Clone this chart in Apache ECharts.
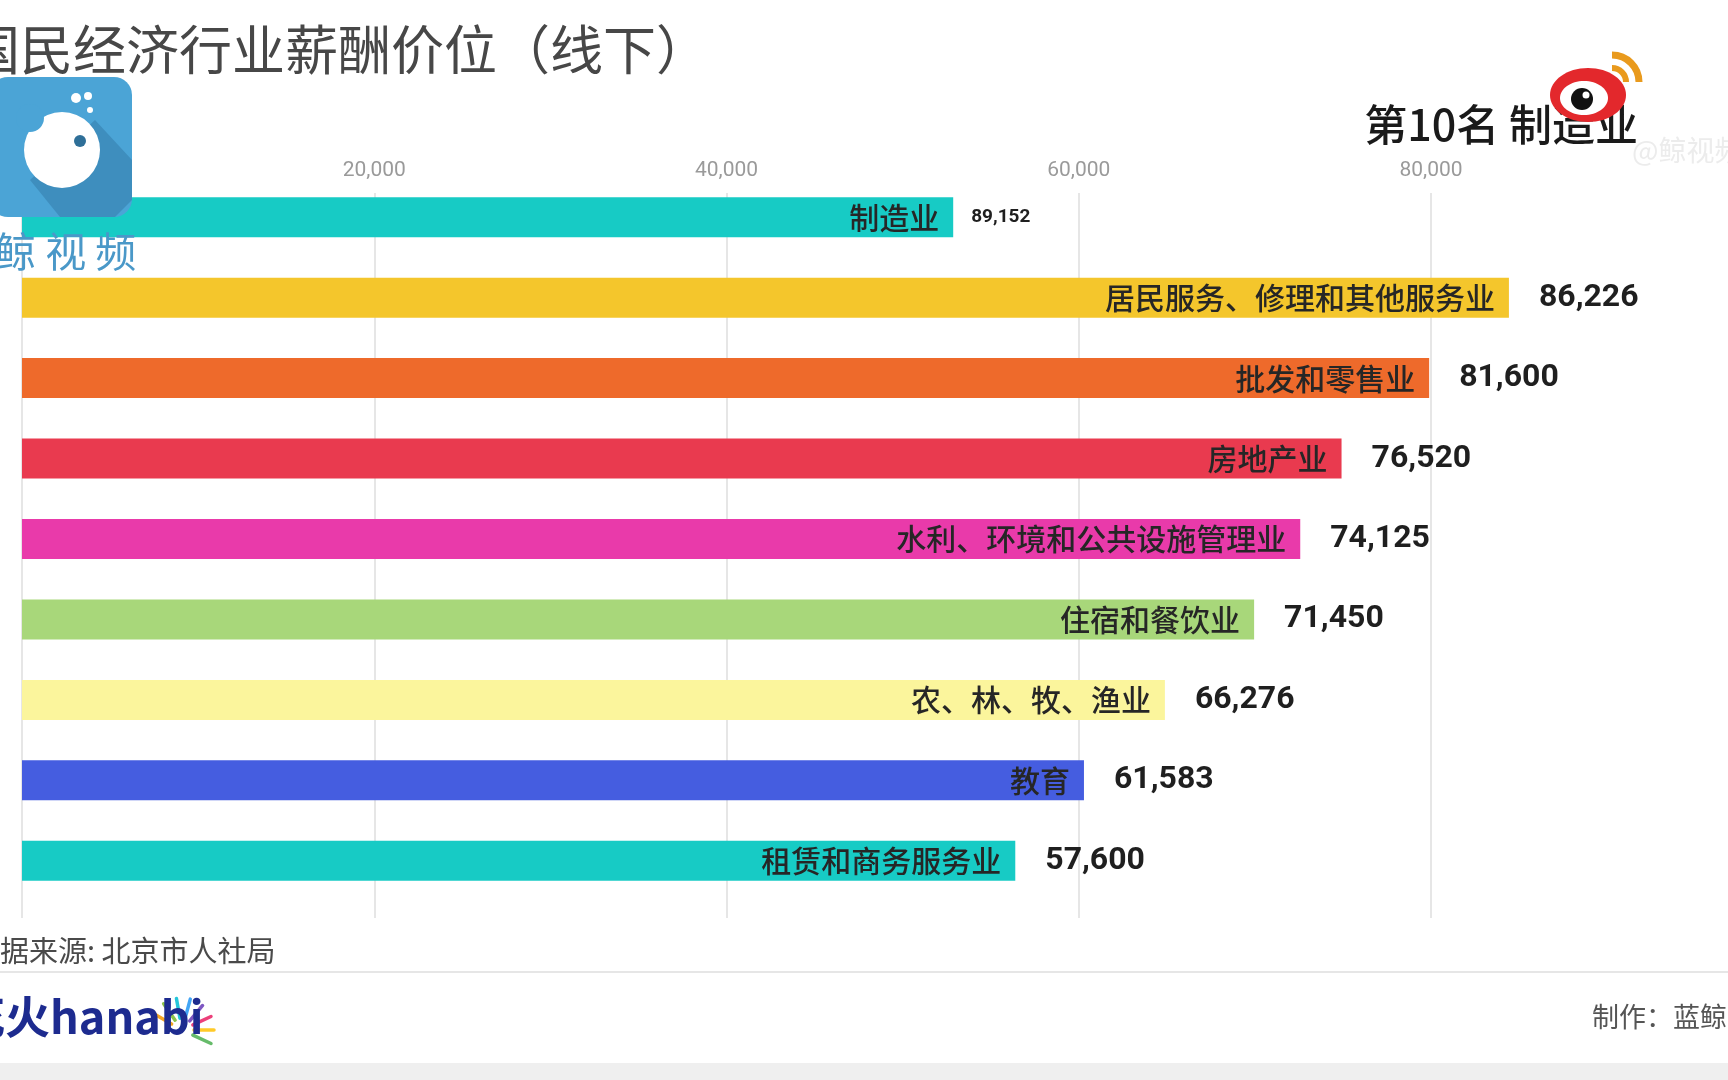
<!DOCTYPE html>
<html>
<head>
<meta charset="utf-8">
<script src="https://cdn.jsdelivr.net/npm/echarts@6/dist/echarts.min.js"></script>
<style>
html,body{margin:0;padding:0;background:#ffffff;}
#chart{width:1728px;height:1080px;}
</style>
</head>
<body>
<div id="chart"></div>
<script>
// ---- data read from the frame ----
const categories = ['制造业', '居民服务、修理和其他服务业', '批发和零售业', '房地产业', '水利、环境和公共设施管理业', '住宿和餐饮业', '农、林、牧、渔业', '教育', '租赁和商务服务业'];
const labelValues = [89152, 86226, 81600, 76520, 74125, 71450, 66276, 61583, 57600];
// bar lengths as drawn in this frame (the 制造业 bar is still growing in the race animation)
const barValues = [54000, 86226, 81600, 76520, 74125, 71450, 66276, 61583, 57600];
const barColors = ['#17CBC5', '#F4C62C', '#EE6A2B', '#E93A4F', '#E93AAA', '#A8D77A', '#FBF59C', '#455DE0', '#17CBC5'];
const tickMin = 0, tickMax = 80000, tickStep = 20000;
const titleText = '国民经济行业薪酬价位（线下）';
const rankText = '第10名 制造业';
const sourceText = '数据来源: 北京市人社局';
const makerText = '制作：蓝鲸视频';

const fmt = v => v.toLocaleString('en-US');
const CJK = '"Noto Sans CJK SC", "Noto Sans", sans-serif';

const chart = echarts.init(document.getElementById('chart'));

const nameData = barValues.map((v, i) => ({
  value: v,
  itemStyle: { color: barColors[i] }
}));
const valueData = barValues.map((v, i) => ({
  value: v,
  label: i === 0 ? { fontSize: 19, distance: 18 } : { fontSize: 32, distance: 30 }
}));

const fireColors = ['#f5a623', '#8bc34a', '#26c6da', '#42a5f5', '#7e57c2', '#ec407a', '#ffca28', '#66bb6a'];
const fireLines = fireColors.map((c, i) => {
  const a = (-150 + i * 25) * Math.PI / 180;
  const cx = 182, cy = 1030;
  return {
    type: 'line',
    shape: { x1: cx + Math.cos(a) * 12, y1: cy + Math.sin(a) * 12, x2: cx + Math.cos(a) * 32, y2: cy + Math.sin(a) * 32 },
    style: { stroke: c, lineWidth: 3.5, lineCap: 'round' },
    z: 10
  };
});

const option = {
  backgroundColor: '#ffffff',
  animation: false,
  grid: [
    { left: 22, top: 193, width: 1409, height: 725 },
    { left: 22, top: 177, width: 1552, height: 724 }
  ],
  xAxis: [
    {
      gridIndex: 0, type: 'value', position: 'top',
      min: tickMin, max: tickMax, interval: tickStep,
      axisLine: { show: false }, axisTick: { show: false },
      axisLabel: { showMinLabel: false, margin: 12, color: '#9a9a9a', fontSize: 21, fontFamily: 'Roboto, "Liberation Sans", sans-serif', formatter: v => fmt(v) },
      splitLine: { show: true, lineStyle: { color: '#dedede', width: 1.5 } }
    },
    {
      gridIndex: 1, type: 'value', min: 0, max: 90000, show: false,
      splitLine: { show: false }
    }
  ],
  yAxis: [
    { gridIndex: 0, type: 'value', show: false, splitLine: { show: false } },
    { gridIndex: 1, type: 'category', inverse: true, data: categories, show: false }
  ],
  series: [
    {
      type: 'bar', xAxisIndex: 1, yAxisIndex: 1, barWidth: 40,
      data: nameData,
      label: {
        show: true, position: 'insideRight', distance: 14,
        formatter: p => categories[p.dataIndex],
        color: '#262626', fontSize: 30, fontWeight: 500, fontFamily: CJK
      },
      z: 3
    },
    {
      type: 'bar', xAxisIndex: 1, yAxisIndex: 1, barWidth: 40, barGap: '-100%',
      data: valueData,
      itemStyle: { color: 'rgba(0,0,0,0)' },
      label: {
        show: true, position: 'right',
        formatter: p => fmt(labelValues[p.dataIndex]),
        color: '#1f1f1f', fontWeight: 'bold', fontFamily: 'Roboto, "DejaVu Sans", sans-serif'
      },
      z: 2
    }
  ],
  graphic: [
    // title (left part runs off the frame)
    { type: 'text', left: -33, top: 23, style: { text: titleText, font: '53px ' + CJK, fill: '#474747' }, z: 20 },
    // current rank caption
    { type: 'text', right: 90, top: 103, style: { text: rankText, font: '500 43px ' + CJK, fill: '#1a1a1a' }, z: 20 },
    { type: 'text', left: 1632, top: 136, style: { text: '@鲸视频', font: '28px ' + CJK, fill: '#ececec' }, z: 1 },
    // weibo logo (approximation)
    { type: 'ellipse', shape: { cx: 1588, cy: 95, rx: 38, ry: 27 }, style: { fill: '#E3282C' }, z: 21 },
    { type: 'ellipse', shape: { cx: 1584, cy: 98, rx: 24, ry: 17 }, style: { fill: '#ffffff' }, z: 22 },
    { type: 'circle', shape: { cx: 1582, cy: 99, r: 11 }, style: { fill: '#111111' }, z: 23 },
    { type: 'circle', shape: { cx: 1586, cy: 95, r: 3.5 }, style: { fill: '#ffffff' }, z: 24 },
    { type: 'arc', shape: { cx: 1612, cy: 82, r: 14, startAngle: -Math.PI / 2, endAngle: 0 }, style: { stroke: '#E99A1D', lineWidth: 6, fill: 'none' }, z: 21 },
    { type: 'arc', shape: { cx: 1612, cy: 82, r: 27, startAngle: -Math.PI / 2, endAngle: 0 }, style: { stroke: '#E99A1D', lineWidth: 7, fill: 'none' }, z: 21 },
    // whale video logo (approximation)
    { type: 'rect', shape: { x: -10, y: 77, width: 142, height: 140, r: 18 }, style: { fill: '#4BA4D6' }, z: 20 },
    { type: 'polygon', shape: { points: [[30, 180], [95, 120], [132, 160], [132, 200], [115, 217], [60, 217]] }, style: { fill: '#3E8EBE' }, z: 21 },
    { type: 'circle', shape: { cx: 62, cy: 150, r: 38 }, style: { fill: '#ffffff' }, z: 22 },
    { type: 'circle', shape: { cx: 30, cy: 118, r: 14 }, style: { fill: '#4BA4D6' }, z: 23 },
    { type: 'circle', shape: { cx: 80, cy: 141, r: 6 }, style: { fill: '#2E6F98' }, z: 23 },
    { type: 'circle', shape: { cx: 76, cy: 98, r: 5 }, style: { fill: '#ffffff' }, z: 23 },
    { type: 'circle', shape: { cx: 88, cy: 96, r: 4 }, style: { fill: '#ffffff' }, z: 23 },
    { type: 'circle', shape: { cx: 90, cy: 110, r: 3 }, style: { fill: '#ffffff' }, z: 23 },
    { type: 'text', left: -5, top: 231, style: { text: '鲸 视 频', font: '41px ' + CJK, fill: '#4A98C8' }, z: 20 },
    // source + footer
    { type: 'text', left: -29, top: 936, style: { text: sourceText, font: '29px ' + CJK, fill: '#4a4a4a' }, z: 20 },
    { type: 'rect', shape: { x: 0, y: 971, width: 1728, height: 2 }, style: { fill: '#e6e6e6' }, z: 5 },
    { type: 'rect', shape: { x: 0, y: 1063, width: 1728, height: 17 }, style: { fill: '#efefef' }, z: 5 },
    { type: 'text', left: 1592, top: 1003, style: { text: makerText, font: '27px ' + CJK, fill: '#555555' }, z: 20 },
    { type: 'text', left: -40, top: 994, style: { text: '花火hanabi', font: 'bold 45px ' + CJK, fill: '#1d2b8f' }, z: 20 }
  ].concat(fireLines)
};
chart.setOption(option);
</script>
</body>
</html>
